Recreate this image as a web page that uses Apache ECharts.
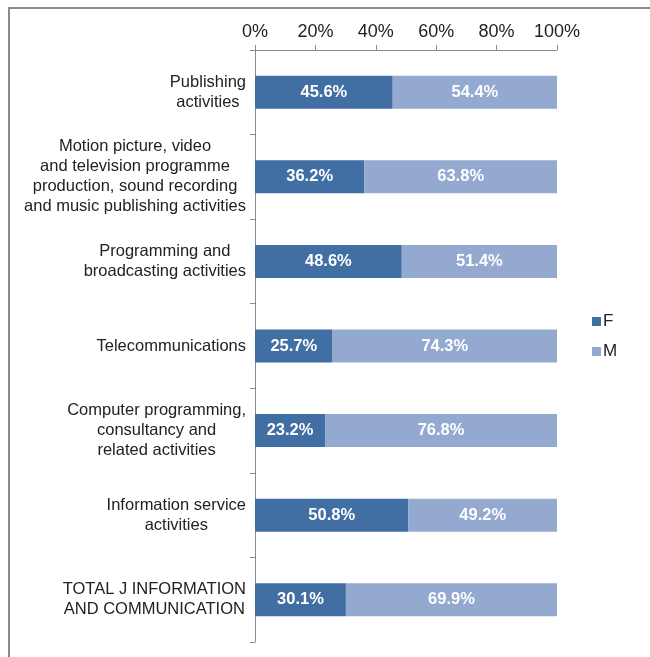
<!DOCTYPE html>
<html>
<head>
<meta charset="utf-8">
<script src="https://cdn.jsdelivr.net/npm/echarts@6/dist/echarts.min.js"></script>
<style>
  html, body { margin: 0; padding: 0; background: #fff; }
  #frame { position: absolute; left: 8px; top: 7px; right: 0; bottom: 0;
           border-left: 2px solid #8a8a8a; border-top: 2px solid #8a8a8a; }
  #chart { position: absolute; left: 0; top: 0; width: 650px; height: 657px; }
</style>
</head>
<body>
<div id="frame"></div>
<div id="chart"></div>
<script>
// Share of employment by sex in information and communication activities
const categories = [
  'Publishing\nactivities',
  'Motion picture, video\nand television programme\nproduction, sound recording\nand music publishing activities',
  'Programming and\nbroadcasting activities',
  'Telecommunications',
  'Computer programming,\nconsultancy and\nrelated activities',
  'Information service\nactivities',
  'TOTAL J INFORMATION\nAND COMMUNICATION'
];
const female = [45.6, 36.2, 48.6, 25.7, 23.2, 50.8, 30.1];
const male = [54.4, 63.8, 51.4, 74.3, 76.8, 49.2, 69.9];
const xTicks = [0, 20, 40, 60, 80, 100];

const FONT = '"Liberation Sans", Arial, sans-serif';
const axisColor = '#8c8c8c';

const chart = echarts.init(document.getElementById('chart'), null, { renderer: 'canvas' });

const barLabel = {
  show: true,
  position: 'inside',
  color: '#fff',
  fontWeight: 'bold',
  fontSize: 16.5,
  fontFamily: FONT,
  formatter: p => p.value.toFixed(1) + '%'
};

chart.setOption({
  animation: false,
  backgroundColor: 'transparent',
  grid: { left: 255, right: 93, top: 50, bottom: 15 },
  legend: {
    orient: 'vertical',
    left: 587,
    top: 308,
    itemWidth: 9,
    itemHeight: 9,
    itemGap: 13,
    icon: 'rect',
    textStyle: { fontFamily: FONT, fontSize: 17, color: '#222', padding: [0, 0, 0, -3] },
    data: ['F', 'M']
  },
  xAxis: {
    type: 'value',
    position: 'top',
    min: 0,
    max: 100,
    interval: 20,
    axisLine: { show: true, lineStyle: { color: axisColor, width: 1 } },
    axisTick: { show: true, length: 5, lineStyle: { color: axisColor } },
    splitLine: { show: false },
    axisLabel: {
      fontFamily: FONT, fontSize: 18, color: '#222', margin: 9,
      formatter: v => xTicks.includes(v) ? v + '%' : ''
    }
  },
  yAxis: {
    type: 'category',
    inverse: true,
    data: categories,
    axisLine: { show: true, lineStyle: { color: axisColor, width: 1 } },
    axisTick: { show: true, length: 5, lineStyle: { color: axisColor } },
    axisLabel: {
      margin: 9,
      align: 'right',
      formatter: v => v.split('\n').map(l => '{c|' + l + '}').join('\n'),
      rich: {
        c: { align: 'center', fontFamily: FONT, fontSize: 16.5, lineHeight: 20, color: '#222' }
      }
    }
  },
  series: [
    {
      name: 'F', type: 'bar', stack: 'sex', data: female,
      barWidth: '39%',
      itemStyle: { color: '#416ea3' },
      label: barLabel
    },
    {
      name: 'M', type: 'bar', stack: 'sex', data: male,
      itemStyle: { color: '#93a9d0' },
      label: barLabel
    }
  ]
});
</script>
</body>
</html>
